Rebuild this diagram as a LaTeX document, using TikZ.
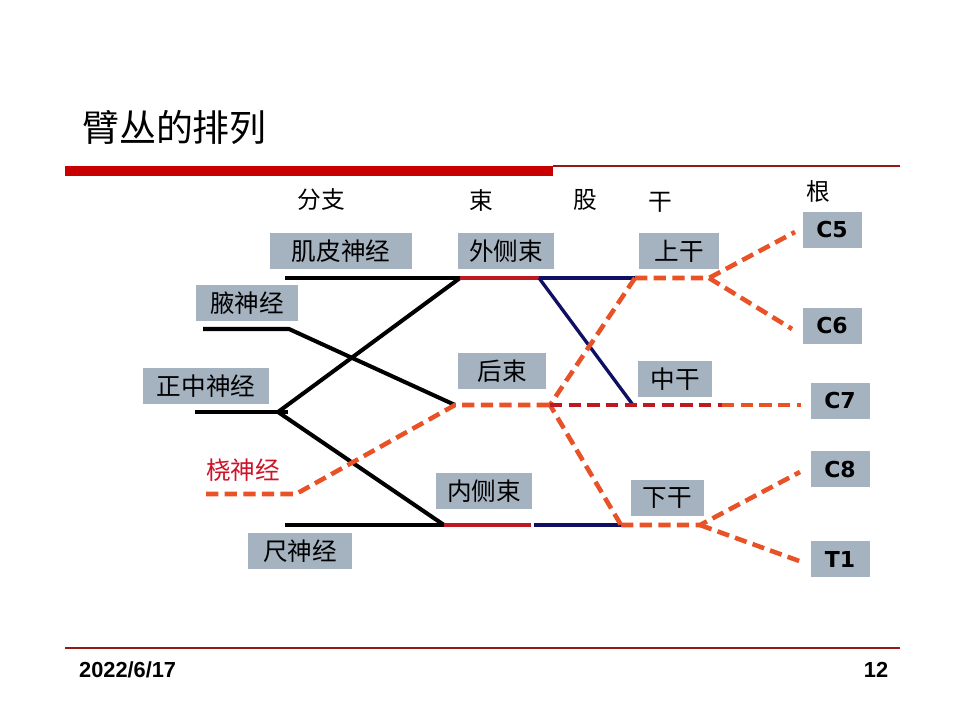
\documentclass[tikz,border=0pt]{standalone}
\usepackage{fontspec}
\setmainfont{Liberation Sans}
\newfontfamily\cjk{Noto Sans CJK SC}
\newfontfamily\lab{DejaVu Sans}
\usepackage{xcolor}
\usepackage{tikz}
\definecolor{boxgray}{RGB}{165,178,192}
\definecolor{barred}{RGB}{200,0,0}
\definecolor{rulered}{RGB}{150,25,25}
\definecolor{dashor}{RGB}{232,82,38}
\definecolor{cordred}{RGB}{190,25,35}
\definecolor{navyline}{RGB}{15,15,100}
\definecolor{radred}{RGB}{205,20,40}

\begin{document}
\begin{tikzpicture}[x=0.02cm, y=-0.02cm,
  nb/.style={fill=boxgray, minimum height=0.72cm, inner sep=0pt, font=\cjk\fontsize{14}{16}\selectfont},
  rt/.style={nb, minimum width=1.18cm, font=\lab\bfseries\fontsize{12.5}{14}\selectfont},
  hd/.style={font=\cjk\fontsize{13.5}{15}\selectfont},
  blk/.style={line width=2.3pt}, sol/.style={line width=1.9pt},
  dsh/.style={dashor, line width=2.6pt, dash pattern=on 7pt off 3.6pt}]
\useasboundingbox (0,0) rectangle (960,720);
% title and rules
\node[anchor=west, font=\cjk\fontsize{21}{24}\selectfont] (title) at (76,127) {臂丛的排列};
\fill[barred] (65,166) rectangle (553,176);
\draw[rulered, line width=0.8pt] (553,166) -- (900,166);
\draw[rulered, line width=0.8pt] (65,648) -- (900,648);
\node[anchor=west, font=\bfseries\fontsize{12.4}{14}\selectfont] (date) at (73,670) {2022/6/17};
\node[font=\bfseries\fontsize{12.4}{14}\selectfont] (pg) at (876,670) {12};
% column heads
\node[hd] (h1) at (321,200) {分支};
\node[hd] (h2) at (481,200) {束};
\node[hd] (h3) at (585,200) {股};
\node[hd] (h4) at (660,202) {干};
\node[hd] (h5) at (818,191) {根};
% boxes
\node[nb, minimum width=2.84cm] (mc) at (341,251) {肌皮神经};
\node[nb, minimum width=2.06cm] (ax) at (247,303) {腋神经};
\node[nb, minimum width=2.52cm] (md) at (206,386) {正中神经};
\node[nb, minimum width=2.08cm] (ul) at (300,551) {尺神经};
\node[font=\cjk\fontsize{14}{16}\selectfont, text=radred] (rd) at (243,470) {桡神经};
\node[nb, minimum width=1.92cm] (lat) at (506,251) {外侧束};
\node[nb, minimum width=1.78cm] (pos) at (502,371) {后束};
\node[nb, minimum width=1.92cm] (mdc) at (484,491) {内侧束};
\node[nb, minimum width=1.6cm] (up) at (679,251) {上干};
\node[nb, minimum width=1.48cm] (mi) at (675,379) {中干};
\node[nb, minimum width=1.46cm] (lo) at (667,498) {下干};
\node[rt] (c5) at (832,230) {C5};
\node[rt] (c6) at (832,326) {C6};
\node[rt] (c7) at (840,401) {C7};
\node[rt] (c8) at (840,469) {C8};
\node[rt] (t1) at (840,559) {T1};
% junctions
\coordinate (mcL) at (285,278); \coordinate (latJ) at (460,278); \coordinate (latS) at (539,278);
\coordinate (upJ) at (635,278); \coordinate (upS) at (709,278);
\coordinate (axL) at (203,329); \coordinate (axR) at (289,329);
\coordinate (mdL) at (195,412); \coordinate (mdJ) at (278,412); \coordinate (mdR) at (288,412);
\coordinate (posJ) at (455,405); \coordinate (posS) at (550,405); \coordinate (miJ) at (633,405);
\coordinate (miR) at (722,405); \coordinate (c7e) at (801,405);
\coordinate (rdL) at (206,494); \coordinate (rdJ) at (296,494);
\coordinate (ulL) at (285,525); \coordinate (mdcJ) at (444,525); \coordinate (mdcS) at (531,525);
\coordinate (mdcN) at (534,525); \coordinate (loJ) at (621,525); \coordinate (loS) at (700,525);
\coordinate (c5e) at (795,232); \coordinate (c6e) at (792,329);
\coordinate (c8e) at (800,472); \coordinate (t1e) at (802,562);
% branches
\draw[blk] (mcL) -- (latJ);
\draw[blk] (axL) -- (axR) -- (posJ);
\draw[blk] (mdL) -- (mdR); \draw[blk] (latJ) -- (mdJ) -- (mdcJ);
\draw[blk] (ulL) -- (mdcJ);
\draw[dsh] (rdL) -- (rdJ) -- (posJ) -- (posS);
% cords and divisions
\draw[sol, cordred] (latJ) -- (latS);
\draw[sol, navyline] (latS) -- (upJ); \draw[sol, navyline] (latS) -- (miJ);
\draw[sol, cordred] (mdcJ) -- (mdcS);
\draw[sol, navyline] (mdcN) -- (loJ);
\draw[dsh] (upJ) -- (posS) -- (loJ);
\draw[dsh, cordred] (posS) -- (miR);
% trunks and roots
\draw[dsh] (upJ) -- (upS) -- (c5e); \draw[dsh] (upS) -- (c6e);
\draw[dsh] (miR) -- (c7e);
\draw[dsh] (loJ) -- (loS) -- (c8e); \draw[dsh] (loS) -- (t1e);
\end{tikzpicture}
\end{document}
